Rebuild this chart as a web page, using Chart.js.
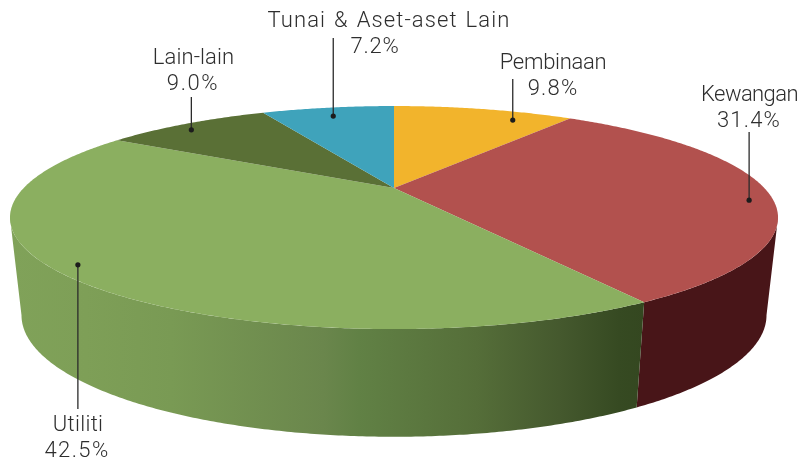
<!DOCTYPE html>
<html>
<head>
<meta charset="utf-8">
<style>html,body{margin:0;padding:0;background:#fff}canvas{display:block}</style>
<script src="https://cdn.jsdelivr.net/npm/chart.js@4/dist/chart.umd.js"></script>
</head>
<body>
<canvas id="c" width="799" height="461"></canvas>
<script>
const categories = ["Pembinaan", "Kewangan", "Utiliti", "Lain-lain", "Tunai & Aset-aset Lain"];
const values = [9.8, 31.4, 42.5, 9.0, 7.2];
const valueLabels = ["9.8%", "31.4%", "42.5%", "9.0%", "7.2%"];
const topColors = ["#F2B42C", "#B2514E", "#8BAF60", "#5A7036", "#3FA3BB"];

// Perspective view of the pie disc
const VIEW = { squash: 0.28, persp: 0.265, bottomX: 0.97, bottomY: 1.09, depth: 95 };

// Side walls: horizontal gradient stops for the green wall, flat for the red
const WALL = {
  1: [[0, "#481518"], [1, "#481518"]],
  2: [[0, "#80A259"], [0.12, "#7E9F57"], [0.255, "#799A54"], [0.495, "#6A864C"], [0.55, "#618145"], [0.735, "#556E39"], [0.865, "#45592E"], [0.96, "#364A22"], [1, "#344720"]]
};

// Callouts: where in the slice the leader starts, where it ends, where each text line sits
const CALLOUTS = [
  { sweep: 0.739, reach: 0.882, endY: 79,  name: [553, 69],     pct: [553, 95],  nameTrack: -0.3, pctTrack: 1.2 },
  { sweep: 0.545, reach: 0.937, endY: 132, name: [749.5, 101],  pct: [749, 127], nameTrack: -0.6, pctTrack: 1.2 },
  { sweep: 0.526, reach: 0.945, endY: 409, name: [78, 431],     pct: [77, 457],  nameTrack: 0.3,  pctTrack: 1.4 },
  { sweep: 0.435, reach: 0.921, endY: 97,  name: [193.5, 63.5], pct: [193, 90],  nameTrack: 0.1,  pctTrack: 1.6 },
  { sweep: 0.487, reach: 0.873, endY: 38,  name: [389, 27],     pct: [375, 53],  nameTrack: 1.1,  pctTrack: 0.8, nameWord: 1.5 }
];

function project(el, theta, radial, level) {
  const R = el.outerRadius * radial;
  const b = el.outerRadius * VIEW.squash * radial;
  const w = 1 + VIEW.persp * radial * Math.cos(theta);
  const px = R * Math.sin(theta) / w;
  const py = -b * Math.cos(theta) / w;
  if (level === 1) return [el.x + px * VIEW.bottomX, el.y + VIEW.depth + py * VIEW.bottomY];
  return [el.x + px, el.y + py];
}
const toTheta = a => a + Math.PI / 2;

class Arc3D extends Chart.ArcElement {
  static id = "arc3d";
  static defaults = Chart.ArcElement.defaults;
  draw(ctx) {
    const t0 = toTheta(this.startAngle), t1 = toTheta(this.endAngle);
    ctx.save();
    ctx.fillStyle = this.options.backgroundColor;
    ctx.beginPath();
    ctx.moveTo(this.x, this.y);
    const n = Math.max(8, Math.ceil((t1 - t0) * 120));
    for (let i = 0; i <= n; i++) {
      const p = project(this, t0 + (t1 - t0) * i / n, 1, 0);
      ctx.lineTo(p[0], p[1]);
    }
    ctx.closePath();
    ctx.fill();
    ctx.restore();
  }
  drawWall(ctx, index) {
    const stops = WALL[index];
    if (!stops) return;
    const sil = Math.acos(-VIEW.persp);
    const t0 = Math.max(toTheta(this.startAngle), sil);
    const t1 = Math.min(toTheta(this.endAngle), 2 * Math.PI - sil);
    if (t1 <= t0) return;
    const n = Math.ceil((t1 - t0) * 120);
    const pts0 = [], pts1 = [];
    for (let i = 0; i <= n; i++) {
      const t = t0 + (t1 - t0) * i / n;
      pts0.push(project(this, t, 1, 0));
      pts1.push(project(this, t, 1, 1));
    }
    const xs = pts0.concat(pts1).map(p => p[0]);
    const g = ctx.createLinearGradient(Math.min(...xs), 0, Math.max(...xs), 0);
    stops.forEach(s => g.addColorStop(s[0], s[1]));
    ctx.save();
    ctx.fillStyle = g;
    ctx.beginPath();
    pts0.forEach((p, i) => i ? ctx.lineTo(p[0], p[1]) : ctx.moveTo(p[0], p[1]));
    pts1.reverse().forEach(p => ctx.lineTo(p[0], p[1]));
    ctx.closePath();
    ctx.fill();
    ctx.restore();
  }
}

class Pie3DController extends Chart.PieController {
  static id = "pie3d";
  static defaults = Object.assign({}, Chart.PieController.defaults, { dataElementType: "arc3d" });
  draw() {
    const ctx = this.chart.ctx;
    this._cachedMeta.data.forEach((el, i) => el.drawWall(ctx, i));
    super.draw();
  }
}
Chart.register(Arc3D, Pie3DController);

const calloutPlugin = {
  id: "callouts",
  afterDatasetsDraw(chart) {
    const ctx = chart.ctx;
    chart.getDatasetMeta(0).data.forEach((el, i) => {
      const c = CALLOUTS[i];
      const t = toTheta(el.startAngle + (el.endAngle - el.startAngle) * c.sweep);
      const p = project(el, t, c.reach, 0);
      ctx.save();
      ctx.strokeStyle = "#2b2b2b";
      ctx.lineWidth = 1.3;
      ctx.beginPath();
      ctx.moveTo(p[0], p[1]);
      ctx.lineTo(p[0], c.endY);
      ctx.stroke();
      ctx.fillStyle = "#1c1c1c";
      ctx.beginPath();
      ctx.arc(p[0], p[1], 2.6, 0, Math.PI * 2);
      ctx.fill();
      ctx.restore();
    });
    ctx.save();
    ctx.fillStyle = "#2e2e2e";
    ctx.textAlign = "center";
    ctx.textBaseline = "alphabetic";
    ctx.font = '300 22px Roboto';
    CALLOUTS.forEach((c, i) => {
      ctx.letterSpacing = c.nameTrack + "px";
      ctx.wordSpacing = (c.nameWord || 0) + "px";
      ctx.fillText(categories[i], c.name[0], c.name[1]);
      ctx.wordSpacing = "0px";
      ctx.letterSpacing = c.pctTrack + "px";
      ctx.fillText(valueLabels[i], c.pct[0], c.pct[1]);
    });
    ctx.restore();
  }
};

new Chart(document.getElementById("c"), {
  type: "pie3d",
  data: {
    labels: categories,
    datasets: [{ data: values, backgroundColor: topColors, borderWidth: 0, radius: 370.3 }]
  },
  options: {
    responsive: false,
    animation: false,
    layout: { padding: { left: 0, right: 11, top: 0, bottom: 85 } },
    plugins: { legend: { display: false }, tooltip: { enabled: false } }
  },
  plugins: [calloutPlugin]
});
</script>
</body>
</html>
